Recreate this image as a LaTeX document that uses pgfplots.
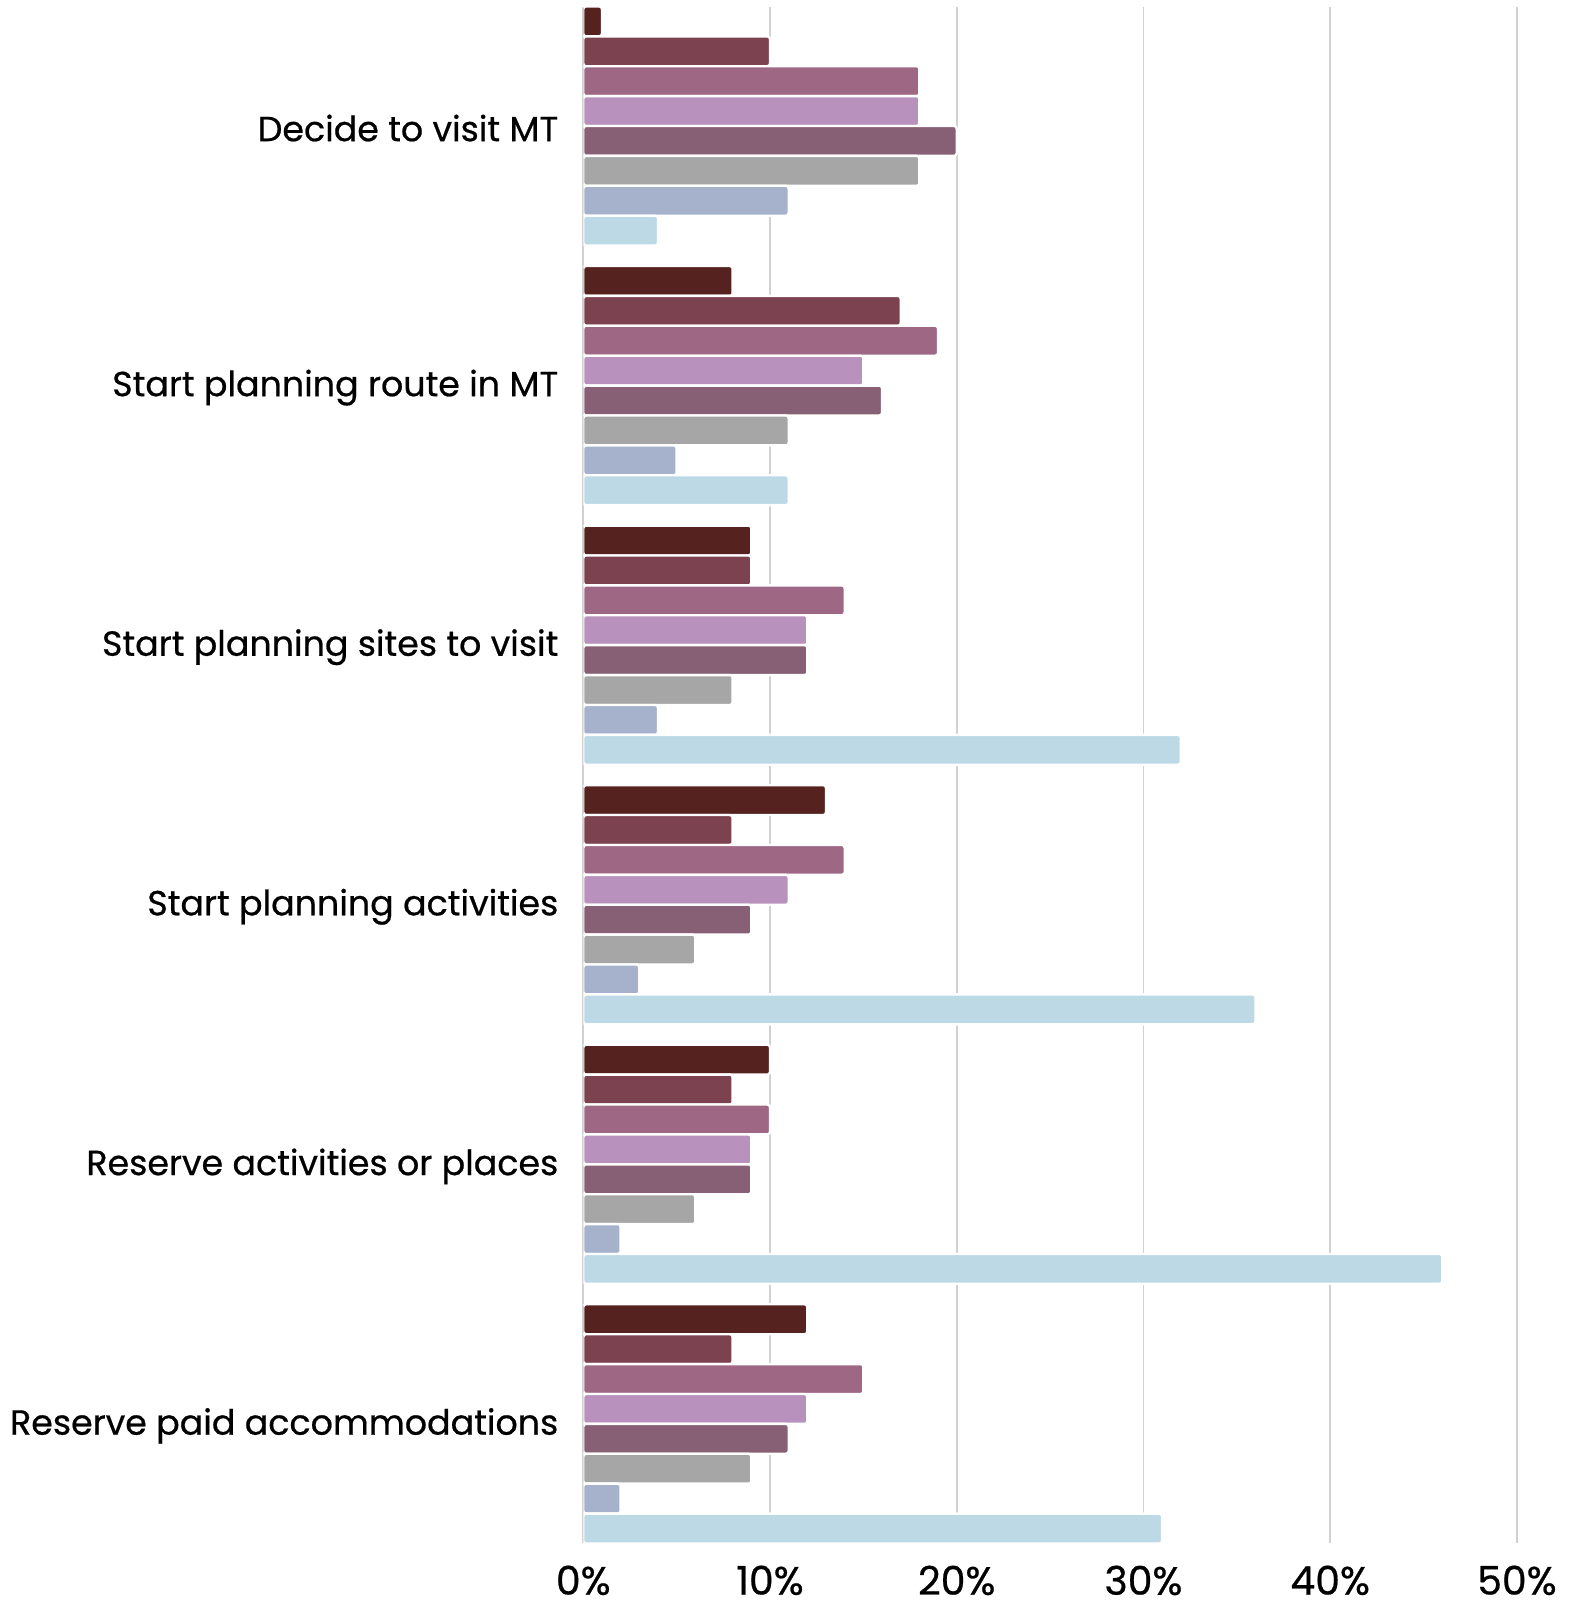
\documentclass[border=0pt]{standalone}
\usepackage{fontspec}
\setmainfont{Poppins}
\newfontfamily\lblfont[FakeBold=0.6]{Poppins}
\usepackage{pgfplots}
\pgfplotsset{compat=1.18}
\definecolor{c1}{HTML}{55221F}
\definecolor{c2}{HTML}{7C4250}
\definecolor{c3}{HTML}{9E6885}
\definecolor{c4}{HTML}{B891BD}
\definecolor{c5}{HTML}{876075}
\definecolor{c6}{HTML}{A6A6A6}
\definecolor{c7}{HTML}{A6B1CB}
\definecolor{c8}{HTML}{BDD9E6}
\begin{document}
\begin{tikzpicture}
\begin{axis}[name=ax, xbar, scale only axis, width=274.5pt, height=451.5pt,
  xmin=0, xmax=50, ymin=-0.458, ymax=5.458,
  xtick={0,10,20,30,40,50}, xticklabel={\pgfmathprintnumber{\tick}\%},
  ytick={0,1,2,3,4,5},
  yticklabels={Reserve paid accommodations, Reserve activities or places, Start planning activities, Start planning sites to visit, Start planning route in MT, Decide to visit MT},
  axis line style={draw=none}, major tick length=0pt,
  xmajorgrids, grid style={draw=black!18, line width=0.5pt},
  /pgf/number format/assume math mode=true,
  yticklabel style={font=\lblfont\fontsize{10.25}{12}\selectfont, xshift=-3.8pt, yshift=-0.6pt},
  xticklabel style={font=\lblfont\fontsize{11.6}{13}\selectfont, yshift=-3.2pt},
  bar width=8.79pt,
  every axis plot/.append style={draw=white, line width=0.7pt, rounded corners=0.8pt},
]
\addplot[fill=c1, bar shift=30.765pt] coordinates {(1,5) (8,4) (9,3) (13,2) (10,1) (12,0)};
\addplot[fill=c2, bar shift=21.975pt] coordinates {(10,5) (17,4) (9,3) (8,2) (8,1) (8,0)};
\addplot[fill=c3, bar shift=13.185pt] coordinates {(18,5) (19,4) (14,3) (14,2) (10,1) (15,0)};
\addplot[fill=c4, bar shift=4.395pt] coordinates {(18,5) (15,4) (12,3) (11,2) (9,1) (12,0)};
\addplot[fill=c5, bar shift=-4.395pt] coordinates {(20,5) (16,4) (12,3) (9,2) (9,1) (11,0)};
\addplot[fill=c6, bar shift=-13.185pt] coordinates {(18,5) (11,4) (8,3) (6,2) (6,1) (9,0)};
\addplot[fill=c7, bar shift=-21.975pt] coordinates {(11,5) (5,4) (4,3) (3,2) (2,1) (2,0)};
\addplot[fill=c8, bar shift=-30.765pt] coordinates {(4,5) (11,4) (32,3) (36,2) (46,1) (31,0)};
\end{axis}
\pgfresetboundingbox
\useasboundingbox ([xshift=-171.5pt,yshift=-18pt]ax.south west) rectangle ([xshift=17.4pt,yshift=2.1pt]ax.north east);
\end{tikzpicture}
\end{document}
